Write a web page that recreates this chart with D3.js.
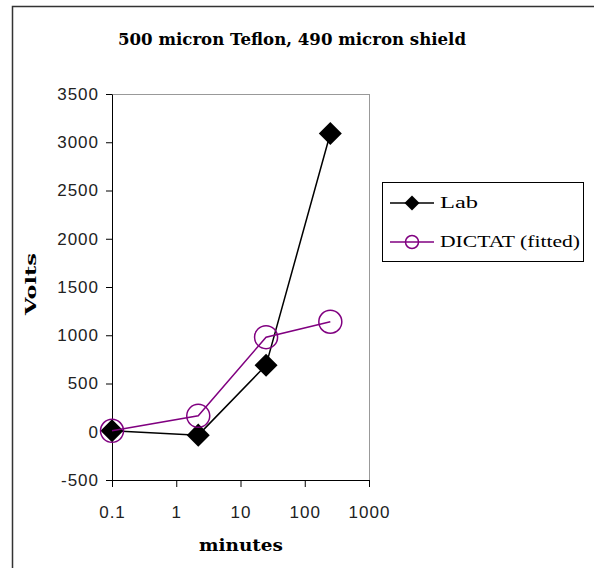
<!DOCTYPE html>
<html>
<head>
<meta charset="utf-8">
<script src="https://cdn.jsdelivr.net/npm/d3@7"></script>
<style>
  body { margin: 0; background: #fff; }
  svg { display: block; }
</style>
</head>
<body>
<div id="chart"></div>
<script>
// Values
const minutes = [0.1, 2.2, 25, 250];
const labVolts = [10, -35, 690, 3090];
const dictatVolts = [10, 165, 980, 1140];

const yTicks = [-500, 0, 500, 1000, 1500, 2000, 2500, 3000, 3500];
const xTicks = [0.1, 1, 10, 100, 1000];
const xTickLabels = ["0.1", "1", "10", "100", "1000"];

const seriesNames = ["Lab", "DICTAT (fitted)"];
const seriesColors = ["#000000", "#800080"];

// Page / plot box
const width = 594;
const height = 568;
const plot = { left: 112, right: 369, top: 94, bottom: 480 };

const xScale = d3.scaleLog()
  .domain([0.1, 1000])
  .range([plot.left, plot.right]);

const yScale = d3.scaleLinear()
  .domain([-500, 3500])
  .range([plot.bottom, plot.top]);

const svg = d3.select("#chart").append("svg")
  .attr("width", width)
  .attr("height", height);

// Outer frame, only the left and top edges show in the picture
svg.append("rect")
  .attr("x", 12.5)
  .attr("y", 6.5)
  .attr("width", 700)
  .attr("height", 700)
  .attr("fill", "none")
  .attr("stroke", "#333")
  .attr("stroke-width", 1.5);

// Title
svg.append("text")
  .attr("x", 118)
  .attr("y", 45)
  .attr("textLength", 348)
  .attr("lengthAdjust", "spacingAndGlyphs")
  .style("font-family", "DejaVu Serif")
  .style("font-weight", "bold")
  .style("font-size", "16px")
  .text("500 micron Teflon, 490 micron shield");

// Plot area border (grey top + right)
svg.append("rect")
  .attr("x", plot.left + 0.5)
  .attr("y", plot.top + 0.5)
  .attr("width", plot.right - plot.left)
  .attr("height", plot.bottom - plot.top)
  .attr("fill", "none")
  .attr("stroke", "#999");

// Y axis, plain hyphen for the negative label like the original
const yAxis = svg.append("g")
  .attr("transform", "translate(" + plot.left + ",0)")
  .call(d3.axisLeft(yScale).tickValues(yTicks)
    .tickFormat(d => String(d))
    .tickSize(6).tickSizeOuter(0).tickPadding(8));

// X axis
const xAxis = svg.append("g")
  .attr("transform", "translate(0," + plot.bottom + ")")
  .call(d3.axisBottom(xScale).tickValues(xTicks)
    .tickFormat((d, i) => xTickLabels[i])
    .tickSize(7).tickSizeOuter(0).tickPadding(19));

[yAxis, xAxis].forEach(ax => {
  ax.select(".domain").attr("stroke", "#000");
  ax.selectAll(".tick line").attr("stroke", "#000");
  ax.selectAll("text")
    .style("font-family", "Liberation Sans")
    .style("font-size", "17px")
    .style("letter-spacing", "1px")
    .attr("fill", "#222");
});
yAxis.selectAll("text").attr("dx", "1px");

// Axis titles
svg.append("text")
  .attr("transform", "translate(36,284) rotate(-90)")
  .attr("text-anchor", "middle")
  .attr("textLength", 62)
  .attr("lengthAdjust", "spacingAndGlyphs")
  .style("font-family", "DejaVu Serif")
  .style("font-weight", "bold")
  .style("font-size", "15px")
  .text("Volts");

svg.append("text")
  .attr("x", 199)
  .attr("y", 551)
  .attr("textLength", 84)
  .attr("lengthAdjust", "spacingAndGlyphs")
  .style("font-family", "DejaVu Serif")
  .style("font-weight", "bold")
  .style("font-size", "16px")
  .text("minutes");

// Series
const labData = minutes.map((m, i) => ({ x: m, y: labVolts[i] }));
const dictatData = minutes.map((m, i) => ({ x: m, y: dictatVolts[i] }));

const line = d3.line()
  .x(d => xScale(d.x))
  .y(d => yScale(d.y));

const diamond = size => d3.symbol(d3.symbolSquare, size);

// Lab: black line + diamonds
svg.append("path")
  .datum(labData)
  .attr("d", line)
  .attr("fill", "none")
  .attr("stroke", seriesColors[0])
  .attr("stroke-width", 1.5);

svg.selectAll(".lab")
  .data(labData)
  .enter().append("path")
    .attr("class", "lab")
    .attr("d", diamond(265)())
    .attr("transform", d => "translate(" + xScale(d.x) + "," + yScale(d.y) + ") rotate(45)")
    .attr("fill", seriesColors[0]);

// DICTAT: purple line + open circles
svg.append("path")
  .datum(dictatData)
  .attr("d", line)
  .attr("fill", "none")
  .attr("stroke", seriesColors[1])
  .attr("stroke-width", 1.5);

svg.selectAll(".dictat")
  .data(dictatData)
  .enter().append("circle")
    .attr("class", "dictat")
    .attr("cx", d => xScale(d.x))
    .attr("cy", d => yScale(d.y))
    .attr("r", 11.5)
    .attr("fill", "none")
    .attr("stroke", seriesColors[1])
    .attr("stroke-width", 1.5);

// Legend
const legend = svg.append("g");
legend.append("rect")
  .attr("x", 382.5)
  .attr("y", 182.5)
  .attr("width", 201)
  .attr("height", 79)
  .attr("fill", "#fff")
  .attr("stroke", "#000");

const rowY = [203, 242];
const labelWidths = [38, 140];

seriesNames.forEach((name, i) => {
  const g = legend.append("g").attr("transform", "translate(0," + rowY[i] + ")");
  g.append("line")
    .attr("x1", 390).attr("x2", 434)
    .attr("stroke", seriesColors[i])
    .attr("stroke-width", 1.5);
  if (i === 0) {
    g.append("path")
      .attr("d", diamond(112)())
      .attr("transform", "translate(412,0) rotate(45)")
      .attr("fill", seriesColors[i]);
  } else {
    g.append("circle")
      .attr("cx", 412).attr("r", 6.5)
      .attr("fill", "none")
      .attr("stroke", seriesColors[i])
      .attr("stroke-width", 1.5);
  }
  g.append("text")
    .attr("x", 440)
    .attr("y", 5)
    .attr("textLength", labelWidths[i])
    .attr("lengthAdjust", "spacingAndGlyphs")
    .style("font-family", "Liberation Serif")
    .style("font-size", "16px")
    .text(name);
});
</script>
</body>
</html>
